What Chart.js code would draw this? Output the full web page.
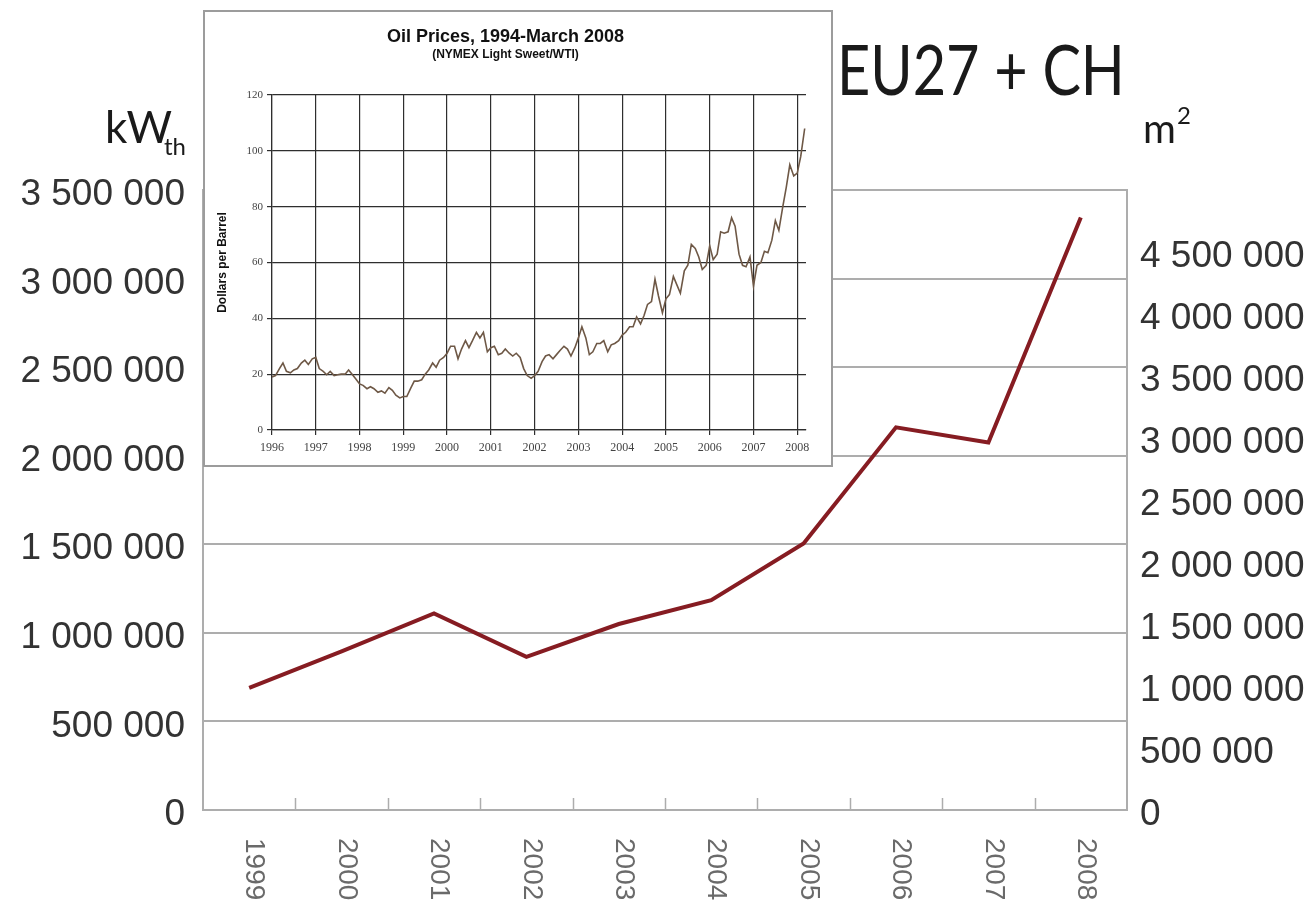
<!DOCTYPE html>
<html>
<head>
<meta charset="utf-8">
<script src="https://cdn.jsdelivr.net/npm/chart.js@4.4.1/dist/chart.umd.min.js"></script>
<style>
  body { margin: 0; background: #fff; }
  #wrap { position: relative; width: 1312px; height: 901px; overflow: hidden; background: #fff; }
  #main { position: absolute; left: 0; top: 0; }
  .lbl { position: absolute; line-height: 1; font-family: Lato, "Noto Sans", sans-serif; color: #1a1a1a; white-space: nowrap; }
  #inset { position: absolute; left: 203px; top: 10px; width: 630px; height: 457px; box-sizing: border-box;
           border: 2px solid #9c9c9c; background: #fff; }
  #oil { position: absolute; left: 0; top: 0; }
</style>
</head>
<body>
<div id="wrap">
  <canvas id="main" width="1312" height="901"></canvas>
  <div class="lbl" id="title" style="left:837px; top:33px; font-size:70px; transform-origin:0 0;">EU27 + CH</div>
  <div class="lbl" style="left:105px; top:104px; font-size:44px;">kW</div>
  <div class="lbl" style="left:164px; top:134px; font-size:24px;">th</div>
  <div class="lbl" style="left:1143px; top:108px; font-size:40px;">m</div>
  <div class="lbl" style="left:1177px; top:103px; font-size:24px;">2</div>
  <div id="inset"><canvas id="oil" width="626" height="453"></canvas></div>
</div>
<script>
// Main chart: solar thermal, EU27 + CH
const years = ['1999', '2000', '2001', '2002', '2003', '2004', '2005', '2006', '2007', '2008'];
const kwth = [690000, 895000, 1110000, 865000, 1050000, 1185000, 1505000, 2160000, 2075000, 3345000];
const kwthTicks = { min: 0, max: 3500000, step: 500000 };
const m2Ticks = { min: 0, max: 5000000, step: 500000 };

// Inset: oil prices (monthly readings, dollars per barrel)
const oilMonths = [
  1996.00, 1996.08, 1996.17, 1996.25, 1996.33, 1996.42, 1996.50, 1996.58, 1996.67, 1996.75, 1996.83, 1996.92,
  1997.00, 1997.08, 1997.17, 1997.25, 1997.33, 1997.42, 1997.50, 1997.58, 1997.67, 1997.75, 1997.83, 1997.92,
  1998.00, 1998.08, 1998.17, 1998.25, 1998.33, 1998.42, 1998.50, 1998.58, 1998.67, 1998.75, 1998.83, 1998.92,
  1999.00, 1999.08, 1999.17, 1999.25, 1999.33, 1999.42, 1999.50, 1999.58, 1999.67, 1999.75, 1999.83, 1999.92,
  2000.00, 2000.08, 2000.17, 2000.25, 2000.33, 2000.42, 2000.50, 2000.58, 2000.67, 2000.75, 2000.83, 2000.92,
  2001.00, 2001.08, 2001.17, 2001.25, 2001.33, 2001.42, 2001.50, 2001.58, 2001.67, 2001.75, 2001.83, 2001.92,
  2002.00, 2002.08, 2002.17, 2002.25, 2002.33, 2002.42, 2002.50, 2002.58, 2002.67, 2002.75, 2002.83, 2002.92,
  2003.00, 2003.08, 2003.17, 2003.25, 2003.33, 2003.42, 2003.50, 2003.58, 2003.67, 2003.75, 2003.83, 2003.92,
  2004.00, 2004.08, 2004.17, 2004.25, 2004.33, 2004.42, 2004.50, 2004.58, 2004.67, 2004.75, 2004.83, 2004.92,
  2005.00, 2005.08, 2005.17, 2005.25, 2005.33, 2005.42, 2005.50, 2005.58, 2005.67, 2005.75, 2005.83, 2005.92,
  2006.00, 2006.08, 2006.17, 2006.25, 2006.33, 2006.42, 2006.50, 2006.58, 2006.67, 2006.75, 2006.83, 2006.92,
  2007.00, 2007.08, 2007.17, 2007.25, 2007.33, 2007.42, 2007.50, 2007.58, 2007.67, 2007.75, 2007.83, 2007.92,
  2008.00, 2008.08, 2008.17
];
const oilPrices = [
  19, 19.5, 22, 24, 21, 20.5, 21.5, 22, 24, 25, 23.5, 25.5,
  26, 22, 21, 19.8, 21, 19.5, 19.8, 20, 20, 21.5, 20, 18.2,
  16.5, 16, 14.8, 15.5, 14.8, 13.5, 14, 13.2, 15.2, 14.2, 12.5, 11.5,
  12, 12, 15, 17.5, 17.5, 18, 20, 21.5, 24, 22.5, 25, 26,
  27.5, 30, 30, 25.5, 29, 32, 29.5, 32, 35, 33, 35, 28,
  29.5, 30, 27, 27.5, 29, 27.5, 26.5, 27.5, 26, 22, 19.5, 18.5,
  19.5, 21, 24.5, 26.5, 27, 25.5, 27, 28.5, 30, 29, 26.5, 29.5,
  33, 37, 33, 27, 28, 31, 31, 32, 28, 30.5, 31, 32,
  34, 35, 37, 37, 40.5, 38, 41, 45, 46, 54, 48, 42,
  47, 48.5, 55, 52, 49, 57, 59, 66.5, 65, 62, 57.5, 59,
  66, 61, 63, 71, 70.5, 71, 76, 73, 63, 59, 58.5, 62,
  51.5, 59, 60, 64, 63.5, 68, 75, 71.5, 80, 87, 95, 91,
  92, 98, 108
];
const oilYearTicks = { min: 1996, max: 2008.2, step: 1 };
const oilPriceTicks = { min: 0, max: 120, step: 20 };

const spaced = v => String(v).replace(/\B(?=(\d{3})+(?!\d))/g, ' ');
const gridGrey = '#adadad';

// x labels are rotated clockwise, and the small ticks sit inside the plot
const yearLabels = {
  id: 'yearLabels',
  afterDraw(chart) {
    const { ctx, scales: { x, y } } = chart;
    const half = (x.getPixelForTick(1) - x.getPixelForTick(0)) / 2;
    ctx.save();
    ctx.strokeStyle = gridGrey;
    ctx.lineWidth = 1.5;
    for (let i = 1; i < years.length; i++) {
      const px = Math.round(x.getPixelForTick(i) - half) + 0.5;
      ctx.beginPath();
      ctx.moveTo(px, y.bottom);
      ctx.lineTo(px, y.bottom - 12);
      ctx.stroke();
    }
    ctx.font = '28px "Liberation Sans", Arial, sans-serif';
    ctx.fillStyle = '#6a6a6a';
    ctx.textAlign = 'left';
    ctx.textBaseline = 'middle';
    years.forEach((yr, i) => {
      ctx.save();
      ctx.translate(x.getPixelForTick(i) + 5, y.bottom + 28);
      ctx.rotate(Math.PI / 2);
      ctx.fillText(yr, 0, 0);
      ctx.restore();
    });
    ctx.restore();
  }
};

new Chart(document.getElementById('main'), {
  type: 'line',
  data: {
    labels: years,
    datasets: [{
      data: kwth,
      yAxisID: 'y',
      borderColor: '#861c22',
      borderWidth: 4,
      pointRadius: 0,
      tension: 0
    }]
  },
  options: {
    responsive: false,
    animation: false,
    layout: { padding: { top: 190, left: 0, right: 0, bottom: 0 } },
    plugins: { legend: { display: false }, tooltip: { enabled: false } },
    scales: {
      x: {
        type: 'category',
        offset: true,
        grid: { display: false },
        border: { display: false },
        ticks: { display: false },
        afterFit: s => { s.height = 91; }
      },
      y: {
        position: 'left',
        min: kwthTicks.min,
        max: kwthTicks.max,
        ticks: {
          stepSize: kwthTicks.step,
          padding: 18,
          labelOffset: 5,
          color: '#333',
          font: { family: '"Liberation Sans", Arial, sans-serif', size: 37 },
          callback: v => spaced(v)
        },
        grid: { color: gridGrey, lineWidth: 2, drawTicks: false },
        border: { color: gridGrey, width: 2 },
        afterFit: s => { s.width = 203; }
      },
      y2: {
        position: 'right',
        min: m2Ticks.min,
        max: m2Ticks.max,
        ticks: {
          stepSize: m2Ticks.step,
          padding: 13,
          labelOffset: 5,
          color: '#333',
          font: { family: '"Liberation Sans", Arial, sans-serif', size: 37 },
          callback: v => (v === m2Ticks.max ? '' : spaced(v))
        },
        grid: { drawOnChartArea: false, drawTicks: false },
        border: { color: gridGrey, width: 2 },
        afterFit: s => { s.width = 185; }
      }
    }
  },
  plugins: [yearLabels]
});

// Inset: oil price chart
const oilGrid = '#2e2e2e';
new Chart(document.getElementById('oil'), {
  type: 'line',
  data: {
    datasets: [{
      data: oilMonths.map((m, i) => ({ x: m, y: oilPrices[i] })),
      borderColor: '#6e5846',
      borderWidth: 1.6,
      pointRadius: 0,
      tension: 0
    }]
  },
  options: {
    responsive: false,
    animation: false,
    layout: { padding: { top: 0, left: 0, right: 25, bottom: 0 } },
    plugins: {
      legend: { display: false },
      tooltip: { enabled: false },
      title: {
        display: true,
        text: 'Oil Prices, 1994-March 2008',
        color: '#111',
        font: { family: 'Arial, "Liberation Sans", sans-serif', size: 18, weight: 'bold', lineHeight: 1.2 },
        padding: { top: 14, bottom: 0 }
      },
      subtitle: {
        display: true,
        text: '(NYMEX Light Sweet/WTI)',
        color: '#111',
        font: { family: 'Arial, "Liberation Sans", sans-serif', size: 12, weight: 'bold', lineHeight: 1.2 },
        padding: { top: 0, bottom: 33 }
      }
    },
    scales: {
      x: {
        type: 'linear',
        min: oilYearTicks.min,
        max: oilYearTicks.max,
        ticks: {
          stepSize: oilYearTicks.step,
          includeBounds: false,
          padding: 6,
          maxRotation: 0,
          autoSkip: false,
          color: '#444',
          font: { family: '"Liberation Serif", serif', size: 12 },
          callback: v => String(v)
        },
        grid: { color: oilGrid, lineWidth: 1.2, tickLength: 5 },
        border: { color: oilGrid, width: 1.2 },
        afterFit: s => { s.height = 35; }
      },
      y: {
        min: oilPriceTicks.min,
        max: oilPriceTicks.max,
        ticks: {
          stepSize: oilPriceTicks.step,
          padding: 4,
          color: '#444',
          font: { family: '"Liberation Serif", serif', size: 11 }
        },
        grid: { color: oilGrid, lineWidth: 1.2, tickLength: 5 },
        border: { color: oilGrid, width: 1.2 },
        title: {
          display: true,
          text: 'Dollars per Barrel',
          color: '#111',
          font: { family: 'Arial, "Liberation Sans", sans-serif', size: 12, weight: 'bold', lineHeight: 1.2 },
          padding: { top: 10, bottom: 0 }
        },
        afterFit: s => { s.width = 67; }
      }
    }
  }
});

// squeeze the title so it spans the same width as in the slide
const t = document.getElementById('title');
const sx = 288 / t.getBoundingClientRect().width;
t.style.transform = 'scaleX(' + sx.toFixed(3) + ')';
</script>
</body>
</html>
